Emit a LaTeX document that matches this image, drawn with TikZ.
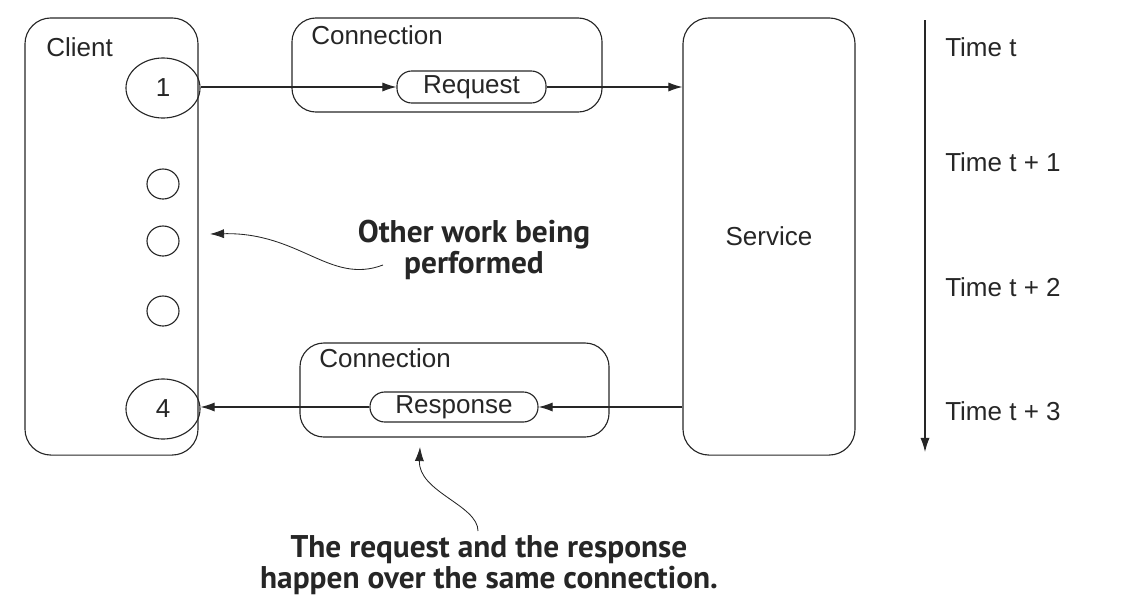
\documentclass[tikz,border=0pt]{standalone}
\usepackage{fontspec}
\setmainfont{Liberation Sans}
\newfontfamily\notefont{PT Sans}
\usetikzlibrary{arrows.meta,shapes.geometric}

\begin{document}
\begin{tikzpicture}[x=0.025cm,y=-0.025cm, line width=0.8pt, color=black!85,
  font=\fontsize{18.5}{22}\selectfont,
  box/.style={draw, rounded corners=0.65cm, minimum height=10.925cm},
  conn/.style={draw, rounded corners=0.6cm, minimum width=7.75cm, minimum height=2.35cm},
  pill/.style={draw, rounded corners=0.37cm, inner sep=0pt},
  slot/.style={draw, ellipse, inner sep=0pt},
  note/.style={font=\notefont\bfseries\fontsize{22.3}{22}\selectfont, align=center},
  msg/.style={-{Latex[length=10pt,width=6.5pt]}}]
\useasboundingbox (0,0) rectangle (1128,612);
% Client
\node[box, minimum width=4.325cm] (client) at (111.5,236.5) {};
\node[anchor=west] (clientlbl) at (41,47) {Client};
\node[slot, minimum width=1.85cm, minimum height=1.5cm] (c1) at (163,88) {1};
\node[slot, minimum width=0.8cm, minimum height=0.75cm] (c2) at (163,184) {};
\node[slot, minimum width=0.8cm, minimum height=0.75cm] (c3) at (163,241) {};
\node[slot, minimum width=0.8cm, minimum height=0.75cm] (c4) at (163,311) {};
\node[slot, minimum width=1.85cm, minimum height=1.5cm] (c5) at (163,409) {4};
% Service
\node[box, minimum width=4.3cm] (svc) at (769,236.5) {Service};
% Connections
\node[conn] (conntop) at (447,65) {};
\node[anchor=west] (conntoplbl) at (306,35) {Connection};
\node[pill, minimum width=3.725cm, minimum height=0.8cm] (req) at (471.5,87) {Request};
\node[conn, minimum width=7.725cm] (connbot) at (454.5,390) {};
\node[anchor=west] (connbotlbl) at (314,358) {Connection};
\node[pill, minimum width=4.2cm, minimum height=0.75cm] (resp) at (454,407) {Response};
% Messages
\draw[msg] (c1.east |- req.west) -- (req.west);
\draw[msg] (req.east) -- (req.east -| svc.west);
\draw[msg] (resp.east -| svc.west) -- (resp.east);
\draw[msg] (resp.west) -- (resp.west -| c5.east);
% Time axis
\coordinate (ttop) at (925,20);
\coordinate (tbot) at (925,452);
\draw[msg] (ttop) -- (tbot);
\node[anchor=west] (t0) at (940,47) {Time t};
\node[anchor=west] (t1) at (940,162) {Time t + 1};
\node[anchor=west] (t2) at (940,287) {Time t + 2};
\node[anchor=west] (t3) at (940,411) {Time t + 3};
% Notes
\node[note] (worknote) at (474,250) {Other work being\\performed};
\coordinate (workstart) at (383,265);
\coordinate (worktip) at (210,234);
\draw[msg, line width=0.6pt] (workstart)
  .. controls (330,285) and (300,232) .. (worktip);
\node[note] (sharednote) at (489,565) {The request and the response\\happen over the same connection.};
\coordinate (sharedstart) at (478,531);
\coordinate (sharedtip) at (420,447);
\draw[msg, line width=0.6pt] (sharedstart)
  .. controls (478,505) and (418,492) .. (sharedtip);
\end{tikzpicture}
\end{document}
